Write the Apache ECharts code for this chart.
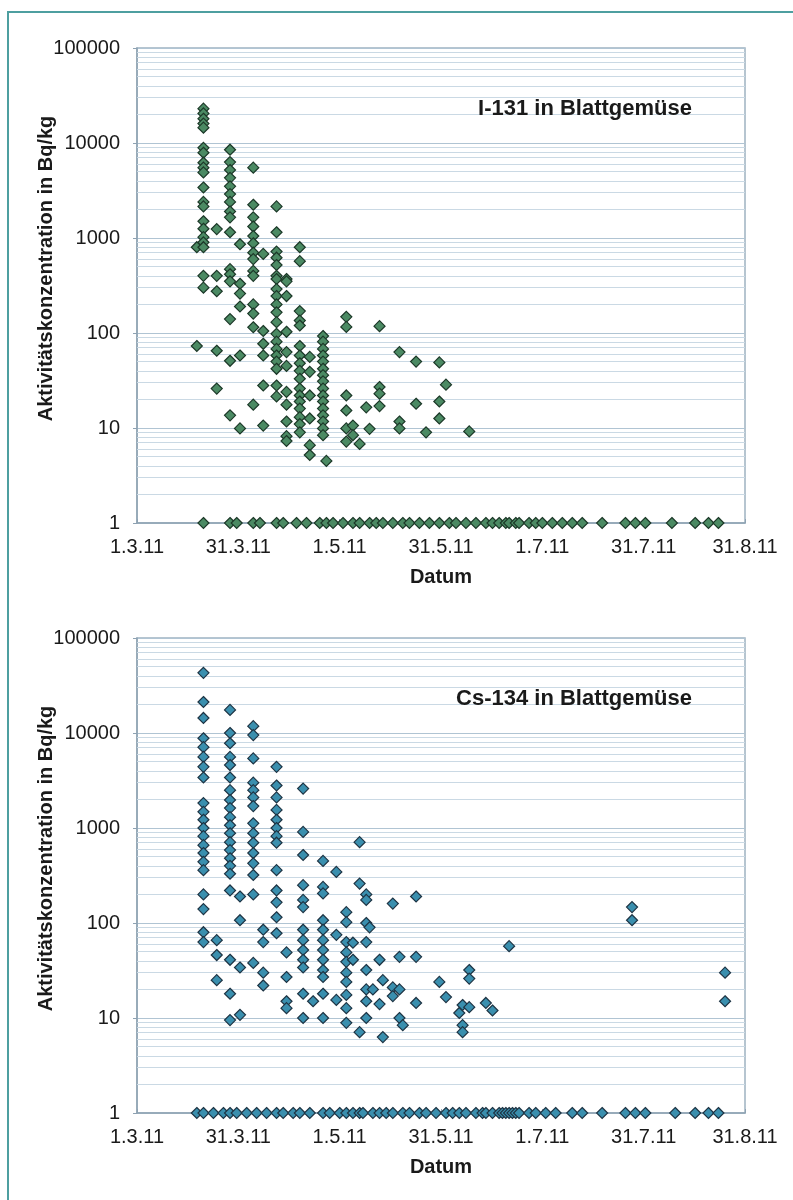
<!DOCTYPE html>
<html>
<head>
<meta charset="utf-8">
<script src="https://cdn.jsdelivr.net/npm/echarts@6.0.0/dist/echarts.min.js"></script>
<style>
  html, body { margin: 0; padding: 0; background: #fff; }
  #chart { position: absolute; left: 0; top: 0; width: 793px; height: 1200px; }
  #frame { position: absolute; left: 7px; top: 11px; width: 800px; height: 1200px;
           border-left: 2px solid #4e9fa0; border-top: 2px solid #4e9fa0; pointer-events: none; }
</style>
</head>
<body>
<div id="chart"></div>
<div id="frame"></div>
<script>
// x = days since 1.3.11, axis ticks every 30.5 days
const xTickLabels = ['1.3.11', '31.3.11', '1.5.11', '31.5.11', '1.7.11', '31.7.11', '31.8.11'];

// I-131: measured values [day, Bq/kg]
const i131Points = [
  [18, 800], [18, 73],
  [20, 23000], [20, 20500], [20, 18000], [20, 16000], [20, 14500], [20, 8900], [20, 7900],
  [20, 6200], [20, 5500], [20, 4900], [20, 3400], [20, 2400], [20, 2150], [20, 1500],
  [20, 1250], [20, 1020], [20, 900], [20, 800], [20, 400], [20, 300],
  [24, 1240], [24, 400], [24, 275], [24, 65], [24, 26],
  [28, 8500], [28, 6300], [28, 5200], [28, 4300], [28, 3500], [28, 2900], [28, 2400],
  [28, 1900], [28, 1650], [28, 1150], [28, 470], [28, 415], [28, 350], [28, 140], [28, 51], [28, 13.6],
  [31, 860], [31, 330], [31, 260], [31, 190], [31, 58], [31, 9.9],
  [35, 5500], [35, 2240], [35, 1650], [35, 1320], [35, 1050], [35, 880], [35, 700], [35, 600],
  [35, 450], [35, 400], [35, 200], [35, 160], [35, 115], [35, 17.6],
  [38, 680], [38, 105], [38, 77], [38, 58], [38, 28], [38, 10.6],
  [42, 2150], [42, 1150], [42, 720], [42, 620], [42, 520], [42, 400], [42, 370], [42, 290],
  [42, 245], [42, 200], [42, 165], [42, 130], [42, 98], [42, 81], [42, 68], [42, 58], [42, 50],
  [42, 42], [42, 28], [42, 21.5],
  [45, 370], [45, 350], [45, 245], [45, 103], [45, 63], [45, 45], [45, 24], [45, 17.6],
  [45, 11.7], [45, 8.2], [45, 7.3],
  [49, 800], [49, 570], [49, 170], [49, 135], [49, 120], [49, 73], [49, 58], [49, 48], [49, 40],
  [49, 33], [49, 26], [49, 22], [49, 19], [49, 16], [49, 13], [49, 11], [49, 9],
  [52, 56], [52, 39], [52, 22], [52, 12.6], [52, 6.6], [52, 5.2],
  [56, 93], [56, 81], [56, 68], [56, 58], [56, 50], [56, 42], [56, 36], [56, 31], [56, 26],
  [56, 22], [56, 19], [56, 16], [56, 13.6], [56, 11.7], [56, 9.9], [56, 8.4], [57, 4.5],
  [63, 148], [63, 116], [63, 22], [63, 15.3], [63, 9.9], [63, 7.2],
  [65, 10.6], [65, 8.4], [67, 6.8], [69, 16.5], [70, 9.8],
  [73, 118], [73, 27], [73, 23], [73, 17],
  [79, 63], [79, 11.7], [79, 9.9], [84, 50], [84, 18], [87, 9],
  [91, 49], [91, 19], [91, 12.6], [93, 28.6], [100, 9.2]
];
// I-131: samples plotted at 1 Bq/kg (days)
const i131AtOne = [20, 28, 30, 35, 37, 42, 44, 48, 51, 55, 57, 59, 62, 65, 67, 70, 72, 74, 77, 80,
  82, 85, 88, 91, 94, 96, 99, 102, 105, 107, 109, 111, 112, 114, 115, 118, 120, 122, 125, 128,
  131, 134, 140, 147, 150, 153, 161, 168, 172, 175];

// Cs-134: measured values [day, Bq/kg]
const cs134Points = [
  [20, 43000], [20, 21200], [20, 14400], [20, 8800], [20, 7100], [20, 5600], [20, 4400],
  [20, 3400], [20, 1830], [20, 1480], [20, 1220], [20, 1000], [20, 820], [20, 660], [20, 545],
  [20, 440], [20, 360], [20, 200], [20, 140], [20, 80], [20, 63],
  [24, 66], [24, 46], [24, 25],
  [28, 17500], [28, 10000], [28, 7800], [28, 5600], [28, 4600], [28, 3400], [28, 2500],
  [28, 1970], [28, 1620], [28, 1300], [28, 1070], [28, 880], [28, 710], [28, 585], [28, 480],
  [28, 400], [28, 330], [28, 220], [28, 41], [28, 18], [28, 9.5],
  [31, 190], [31, 107], [31, 34], [31, 10.8],
  [35, 11800], [35, 9500], [35, 5400], [35, 3000], [35, 2500], [35, 2100], [35, 1700],
  [35, 1120], [35, 880], [35, 700], [35, 545], [35, 425], [35, 320], [35, 200], [35, 38],
  [38, 85], [38, 63], [38, 30], [38, 22],
  [42, 4400], [42, 2800], [42, 2100], [42, 1550], [42, 1220], [42, 1000], [42, 820], [42, 700],
  [42, 360], [42, 220], [42, 165], [42, 115], [42, 78],
  [45, 49], [45, 27], [45, 15], [45, 12.7],
  [50, 2600], [50, 910], [50, 520], [50, 250], [50, 175], [50, 147], [50, 85], [50, 66],
  [50, 52], [50, 41], [50, 34], [50, 18], [50, 10], [53, 15],
  [56, 450], [56, 240], [56, 205], [56, 107], [56, 85], [56, 66], [56, 52], [56, 41], [56, 32],
  [56, 27], [56, 18], [56, 10],
  [60, 345], [60, 75], [60, 15.5],
  [63, 130], [63, 102], [63, 63], [63, 49], [63, 39], [63, 30], [63, 24], [63, 17.5], [63, 12.7], [63, 8.9],
  [65, 62], [65, 41], [67, 710], [67, 260], [67, 7.1],
  [69, 200], [69, 175], [69, 100], [69, 63], [69, 32], [69, 20], [69, 15], [69, 10],
  [70, 90], [71, 20], [73, 41], [73, 14], [74, 25], [74, 6.3],
  [77, 160], [77, 21], [77, 17], [79, 44], [79, 20], [79, 10], [80, 8.4],
  [84, 190], [84, 44], [84, 14.4], [91, 24], [93, 16.6], [97, 11.3],
  [98, 13.7], [98, 8.4], [98, 7.1], [100, 32], [100, 26], [100, 13],
  [105, 14.4], [107, 12], [112, 57], [149, 147], [149, 107], [177, 30], [177, 15]
];
// Cs-134: samples plotted at 1 Bq/kg (days)
const cs134AtOne = [18, 20, 23, 26, 28, 30, 33, 36, 39, 42, 44, 47, 49, 52, 56, 58, 61, 63, 65,
  67, 68, 71, 73, 75, 77, 80, 82, 85, 87, 90, 93, 95, 97, 99, 102, 104, 105, 107, 109, 110, 111,
  112, 113, 114, 115, 118, 120, 123, 126, 131, 134, 140, 147, 150, 153, 162, 168, 172, 175];

const titles = ['I-131 in Blattgemüse', 'Cs-134 in Blattgemüse'];
const yName = 'Aktivitätskonzentration in Bq/kg';
const xName = 'Datum';

// light horizontal lines at 2..9 of every decade
const minorGrid = [];
for (let d = 1; d < 100000; d *= 10) {
  for (let m = 2; m <= 9; m++) minorGrid.push({ yAxis: m * d });
}

const FONT = '"Liberation Sans", Arial, sans-serif';
const tops = [48, 638];

const chart = echarts.init(document.getElementById('chart'));

function xAxisFor(i) {
  return {
    gridIndex: i, type: 'value', min: 0, max: 183, interval: 30.5,
    axisLine: { show: true, onZero: false, lineStyle: { color: '#8ea2b2', width: 1.5 } },
    axisTick: { show: true, inside: true, length: 4, lineStyle: { color: '#8ea2b2' } },
    splitLine: { show: false },
    axisLabel: {
      fontSize: 20, color: '#1a1a1a', margin: 14, fontFamily: FONT,
      formatter: v => xTickLabels[Math.round(v / 30.5)]
    },
    name: xName, nameLocation: 'middle', nameGap: 44, nameMoveOverlap: false,
    nameTextStyle: { fontSize: 20, fontWeight: 'bold', color: '#1a1a1a', fontFamily: FONT }
  };
}

function yAxisFor(i) {
  return {
    gridIndex: i, type: 'log', logBase: 10, min: 1, max: 100000,
    axisLine: { show: true, lineStyle: { color: '#8ea2b2', width: 1.5 } },
    axisTick: { show: true, length: 4, lineStyle: { color: '#8ea2b2' } },
    splitLine: { show: true, lineStyle: { color: '#b0c4d3', width: 1 } },
    axisLabel: {
      fontSize: 20, color: '#1a1a1a', margin: 17, fontFamily: FONT,
      formatter: v => String(Math.round(v))
    },
    name: yName, nameLocation: 'middle', nameGap: 81, nameMoveOverlap: false,
    nameTextStyle: { fontSize: 20, fontWeight: 'bold', color: '#1a1a1a', fontFamily: FONT,
                     padding: [0, 0, 0, 34] }
  };
}

function seriesFor(i, points, atOne, fill, border) {
  return {
    type: 'scatter', xAxisIndex: i, yAxisIndex: i,
    symbol: 'diamond', symbolSize: 11,
    itemStyle: { color: fill, borderColor: border, borderWidth: 1.2, opacity: 1 },
    data: points.concat(atOne.map(d => [d, 1])),
    clip: false,
    markLine: {
      silent: true, symbol: 'none', z: 1, animation: false,
      label: { show: false },
      lineStyle: { color: '#cad9e4', type: 'solid', width: 1 },
      data: minorGrid
    }
  };
}

chart.setOption({
  animation: false,
  backgroundColor: '#fff',
  title: titles.map((t, i) => ({
    text: t, right: 96, top: tops[i] + 45,
    textStyle: { fontSize: 22, fontWeight: 'bold', color: '#1a1a1a', fontFamily: FONT }
  })),
  grid: tops.map(t => ({
    left: 137, top: t, width: 608, height: 475,
    show: true, borderColor: '#9fb2c1', borderWidth: 1.5, backgroundColor: '#fff'
  })),
  xAxis: [xAxisFor(0), xAxisFor(1)],
  yAxis: [yAxisFor(0), yAxisFor(1)],
  series: [
    seriesFor(0, i131Points, i131AtOne, '#4b8a63', '#1c3828'),
    seriesFor(1, cs134Points, cs134AtOne, '#3a8fae', '#1e3444')
  ]
});
</script>
</body>
</html>
